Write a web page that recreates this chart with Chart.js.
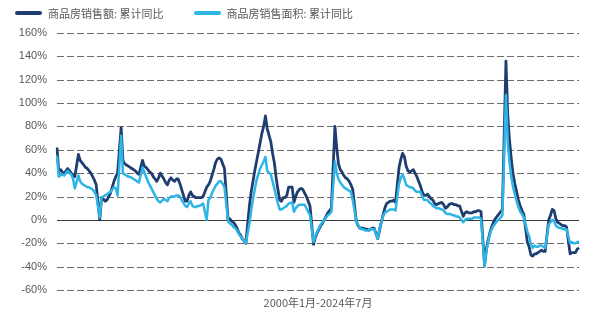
<!DOCTYPE html>
<html lang="zh">
<head>
<meta charset="UTF-8">
<title>商品房销售累计同比</title>
<script src="https://cdn.jsdelivr.net/npm/chart.js"></script>
<style>
    body { margin: 0; background: #ffffff; }
    .wrap { position: relative; width: 600px; height: 315px; }
    .legend {
        position: absolute; top: 5px; left: 15px;
        display: flex; align-items: center;
        font-family: "Noto Sans CJK SC", "Noto Sans", sans-serif;
        font-size: 11px; color: #595959;
    }
    .legend .item { display: flex; align-items: center; margin-right: 30px; }
    .legend .swatch { width: 27px; height: 4px; border-radius: 2px; margin-right: 6px; }
</style>
</head>
<body>
<div class="wrap">
    <div class="legend" id="legend"></div>
    <canvas id="chart" width="600" height="315"></canvas>
</div>
<script>
// monthly cumulative YoY (%), Feb 2000 - Jul 2024, January not published (null)
const seriesNames = ['商品房销售额: 累计同比', '商品房销售面积: 累计同比'];
const seriesColors = ['#1f3d6e', '#2db5e6'];
const axisTitle = '2000年1月-2024年7月';
const yTicks = [-60, -40, -20, 0, 20, 40, 60, 80, 100, 120, 140, 160];

const amountYoY = [
    62, 41, 43, 41, 39, 42, 44, 42, 40, 38, 37,                  // 2000
    null, 56, 51, 49, 47, 45, 44, 42, 40, 37, 34, 30,            // 2001
    null, 0, 19, 18, 16, 17, 20, 23, 28, 33, 37, 40,             // 2002
    null, 79, 51, 48, 47, 46, 45, 44, 43, 42, 40, 39,            // 2003
    null, 51, 46, 45, 43, 41, 40, 37, 35, 33, 36, 40,            // 2004
    null, 35, 32, 30, 34, 36, 34, 33, 35, 35, 31, 26,            // 2005
    null, 16, 16, 21, 24, 21, 20, 19, 19, 19, 19, 20,            // 2006
    null, 28, 30, 33, 38, 43, 49, 52, 53, 52, 48, 44,            // 2007
    null, 0, 1, -1, -2, -4, -7, -11, -13, -16, -18, -20,         // 2008
    null, 12, 24, 33, 42, 50, 58, 66, 74, 80, 89, 78,            // 2009
    null, 67, 57, 49, 36, 26, 17, 16, 19, 19, 21, 28,            // 2010
    null, 28, 15, 20, 24, 26, 27, 26, 23, 20, 16, 12,            // 2011
    null, -21, -15, -11, -8, -5, -3, 0, 3, 6, 8, 10,             // 2012
    null, 80, 62, 48, 43, 41, 38, 36, 35, 33, 30, 26,            // 2013
    null, -1, -5, -7, -7, -7, -8, -8, -9, -8, -7, -7,            // 2014
    null, -16, -9, -2, 4, 10, 14, 15, 16, 16, 17, 15,            // 2015
    null, 45, 52, 57, 54, 46, 42, 41, 42, 43, 40, 37,            // 2016
    null, 29, 24, 21, 21, 22, 20, 18, 17, 14, 13, 14,            // 2017
    null, 15, 13, 10, 11, 13, 14, 14, 13, 13, 12, 12,            // 2018
    null, 3, 6, 7, 6, 6, 6, 7, 7, 8, 8, 7,                       // 2019
    null, -39, -25, -17, -11, -6, -2, 1, 3, 5, 7, 9,             // 2020
    null, 136, 90, 68, 52, 39, 31, 24, 17, 12, 8, 5,             // 2021
    null, -19, -23, -30, -31, -29, -29, -28, -27, -26, -27, -27, // 2022
    null, 0, 4, 9, 8, 1, -2, -3, -4, -5, -5, -6,                 // 2023
    null, -29, -28, -28, -28, -25, -24                           // 2024
];

const areaYoY = [
    55, 37, 38, 39, 38, 40, 42, 40, 39, 35, 27,                  // 2000
    null, 38, 33, 31, 30, 29, 28, 28, 27, 26, 24, 21,            // 2001
    null, 2, 19, 20, 21, 22, 23, 24, 26, 28, 27, 21,             // 2002
    null, 72, 40, 39, 38, 37, 37, 36, 35, 34, 33, 32,            // 2003
    null, 45, 41, 37, 33, 30, 27, 24, 21, 18, 16, 15,            // 2004
    null, 18, 17, 16, 19, 20, 20, 20, 21, 21, 20, 17,            // 2005
    null, 12, 11, 14, 16, 12, 11, 11, 12, 12, 13, 14,            // 2006
    null, 0, 17, 19, 23, 26, 29, 31, 33, 33, 31, 28,             // 2007
    null, -1, -3, -4, -6, -7, -9, -12, -14, -16, -18, -20,       // 2008
    null, -3, 8, 18, 26, 34, 39, 44, 47, 50, 54, 42,             // 2009
    null, 39, 33, 27, 20, 14, 9, 9, 10, 11, 12, 14,              // 2010
    null, 15, 7, 10, 12, 13, 13, 13, 13, 10, 7, 4,               // 2011
    null, -19, -14, -10, -7, -4, -2, 0, 2, 4, 5, 7,              // 2012
    null, 50, 40, 35, 32, 30, 28, 27, 26, 25, 24, 17,            // 2013
    null, -1, -4, -7, -8, -8, -9, -9, -9, -8, -8, -8,            // 2014
    null, -16, -8, -2, 3, 6, 7, 8, 9, 9, 9, 8,                   // 2015
    null, 31, 36, 39, 35, 30, 29, 28, 28, 27, 25, 24,            // 2016
    null, 24, 20, 17, 17, 17, 15, 14, 12, 11, 10, 10,            // 2017
    null, 9, 8, 6, 5, 5, 5, 4, 4, 3, 3, 2,                       // 2018
    null, -2, 0, 1, 1, 1, 1, 2, 2, 2, 2, 1,                      // 2019
    null, -40, -27, -19, -12, -8, -5, -3, -1, 0, 2, 4,           // 2020
    null, 107, 66, 49, 37, 28, 22, 16, 11, 7, 5, 2,              // 2021
    null, -10, -14, -21, -24, -22, -23, -23, -22, -22, -23, -24, // 2022
    null, -4, -2, 0, -1, -5, -6, -7, -7, -8, -8, -8,             // 2023
    null, -20, -19, -20, -20, -19, -19                           // 2024
];

// month labels 2000-02 ... 2024-07
const months = [];
for (let y = 2000; y <= 2024; y++) {
    for (let m = 1; m <= 12; m++) {
        if (y === 2000 && m < 2) continue;
        if (y === 2024 && m > 7) break;
        months.push(y + '-' + String(m).padStart(2, '0'));
    }
}

// html legend
const legendEl = document.getElementById('legend');
seriesNames.forEach((name, i) => {
    const item = document.createElement('div');
    item.className = 'item';
    item.innerHTML = `<span class="swatch" style="background:${seriesColors[i]}"></span><span>${name}</span>`;
    legendEl.appendChild(item);
});

// dashed grid lines, solid line on 0%
const gridLines = {
    id: 'gridLines',
    beforeDatasetsDraw(chart) {
        const { ctx, chartArea, scales } = chart;
        ctx.save();
        ctx.lineWidth = 1;
        yTicks.forEach(v => {
            const y = Math.round(scales.y.getPixelForValue(v)) + 0.5;
            ctx.strokeStyle = v === 0 ? '#3a3a3a' : '#6e6e6e';
            ctx.setLineDash(v === 0 ? [] : [7, 3]);
            ctx.beginPath();
            ctx.moveTo(chartArea.left, y);
            ctx.lineTo(chartArea.right, y);
            ctx.stroke();
        });
        ctx.restore();
    }
};

new Chart(document.getElementById('chart'), {
    type: 'line',
    data: {
        labels: months,
        datasets: [
            { label: seriesNames[0], data: amountYoY, borderColor: seriesColors[0], backgroundColor: seriesColors[0], borderWidth: 2.8, order: 1 },
            { label: seriesNames[1], data: areaYoY, borderColor: seriesColors[1], backgroundColor: seriesColors[1], borderWidth: 2.5, order: 0 }
        ]
    },
    options: {
        responsive: false,
        animation: false,
        spanGaps: true,
        elements: {
            point: { radius: 0 },
            line: { tension: 0, borderJoinStyle: 'round' }
        },
        layout: { padding: { left: 0, right: 21, top: 33, bottom: 0 } },
        plugins: {
            legend: { display: false },
            tooltip: { enabled: false }
        },
        scales: {
            x: {
                type: 'category',
                offset: false,
                afterFit: s => { s.height = 25; },
                ticks: { display: false },
                grid: { display: false },
                border: { display: false },
                title: {
                    display: true,
                    text: axisTitle,
                    color: '#595959',
                    font: { family: '"Noto Sans CJK SC", sans-serif', size: 11 },
                    padding: { top: 0, bottom: 6 }
                }
            },
            y: {
                min: -60,
                max: 160,
                afterFit: s => { s.width = 57; },
                afterBuildTicks: s => { s.ticks = yTicks.map(v => ({ value: v })); },
                ticks: {
                    padding: 10,
                    color: '#595959',
                    font: { family: 'Arial, "Liberation Sans", sans-serif', size: 11 },
                    callback: v => v + '%'
                },
                grid: { display: false, drawTicks: false },
                border: { display: false }
            }
        }
    },
    plugins: [gridLines]
});
</script>
</body>
</html>
